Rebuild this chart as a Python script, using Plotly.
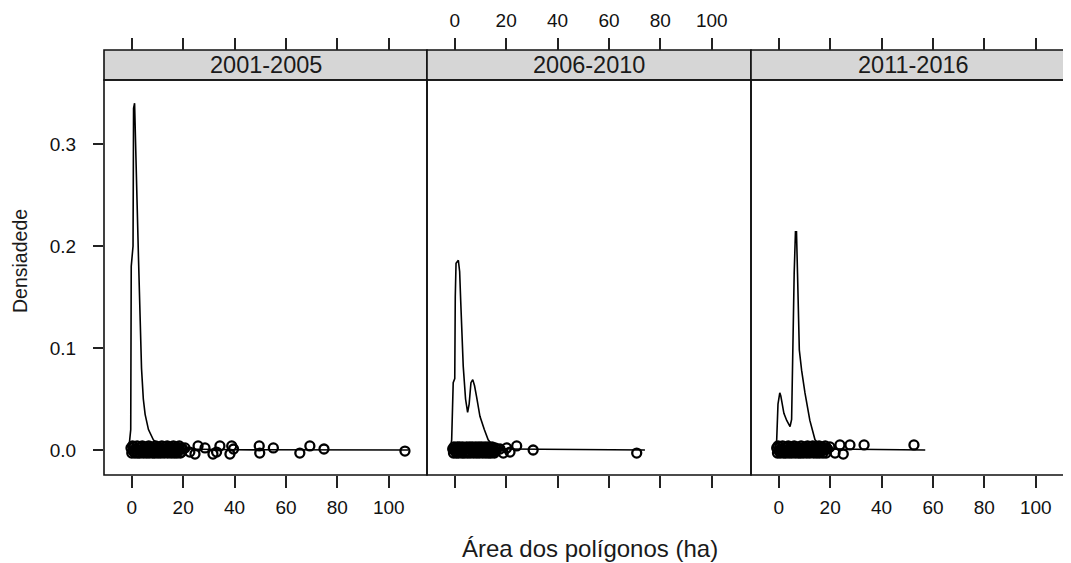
import plotly.graph_objects as go

# ---------------- data ----------------
panel_labels = ["2001-2005", "2006-2010", "2011-2016"]
x_tick_vals = [0, 20, 40, 60, 80, 100]
y_tick_vals = [0.0, 0.1, 0.2, 0.3]
y_tick_text = ["0.0", "0.1", "0.2", "0.3"]

# density curves (x = área ha, y = densidade)
dens_2001_x = [-1.3, -1.0, -0.4, -0.2, 0.5, 0.7, 1.1, 1.6, 2.1, 2.6, 3.2, 3.8, 4.5, 5.2, 6.5, 8.4, 11, 15, 20, 40, 107.5]
dens_2001_y = [0.0, 0.005, 0.02, 0.18, 0.2, 0.335, 0.34, 0.30, 0.24, 0.19, 0.135, 0.08, 0.05, 0.035, 0.02, 0.01, 0.004, 0.002, 0.001, 0.0002, 0.0]

dens_2006_x = [-1.7, -1.2, -0.6, 0.0, 0.2, 0.5, 1.4, 1.9, 2.3, 2.9, 3.3, 4.2, 5.0, 5.6, 6.3, 7.0, 7.7, 8.5, 9.8, 11.5, 13, 15, 18, 74]
dens_2006_y = [0.0, 0.01, 0.066, 0.07, 0.15, 0.183, 0.186, 0.175, 0.147, 0.10, 0.082, 0.05, 0.037, 0.045, 0.066, 0.069, 0.063, 0.052, 0.033, 0.02, 0.01, 0.004, 0.001, 0.0]

dens_2011_x = [-1.3, -0.8, -0.3, 0.4, 0.8, 2.0, 3.1, 4.4, 5.0, 5.4, 6.0, 6.5, 6.9, 7.3, 8.0, 8.9, 10.2, 12.1, 14.1, 16.5, 20, 57]
dens_2011_y = [0.0, 0.01, 0.045, 0.056, 0.053, 0.036, 0.029, 0.023, 0.03, 0.095, 0.173, 0.214, 0.214, 0.173, 0.098, 0.078, 0.056, 0.029, 0.01, 0.004, 0.001, 0.0]

# observed polygon areas (x) with their vertical jitter (y)
pts_2001 = [(-0.3, 0.002), (0.0, -0.003), (0.3, 0.004), (0.5, -0.001), (0.9, 0.003), (1.2, -0.003),
            (1.4, 0.001), (1.8, -0.002), (2.1, 0.004), (2.3, -0.003), (2.7, 0.002), (3.0, 0.0),
            (3.2, -0.003), (3.6, 0.003), (3.9, -0.001), (4.1, 0.004), (4.5, -0.003), (4.8, 0.001),
            (5.0, -0.002), (5.4, 0.003), (5.7, -0.003), (5.9, 0.002), (6.3, -0.001), (6.6, 0.004),
            (6.8, -0.003), (7.2, 0.001), (7.5, -0.002), (7.7, 0.003), (8.1, -0.003), (8.4, 0.002),
            (8.6, 0.0), (9.0, -0.003), (9.3, 0.004), (9.5, -0.002), (9.9, 0.001), (10.2, -0.003),
            (10.4, 0.003), (10.8, -0.001), (11.1, 0.002), (11.3, -0.003), (11.7, 0.004), (12.0, -0.002),
            (12.2, 0.001), (12.6, -0.003), (12.9, 0.003), (13.1, 0.0), (13.5, -0.002), (13.8, 0.004),
            (14.0, -0.003), (14.4, 0.001), (14.7, -0.001), (14.9, 0.003), (15.3, -0.003), (15.6, 0.002),
            (15.8, -0.002), (16.2, 0.004), (16.5, -0.003), (16.7, 0.001), (17.1, -0.001), (17.4, 0.003),
            (17.6, -0.003), (18.0, 0.002), (18.3, 0.0), (18.5, 0.004), (18.9, -0.003), (19.2, 0.002),
            (19.4, -0.002), (19.8, 0.001),
            (20.7, 0.002), (22.6, -0.002), (24.6, -0.004), (25.8, 0.004), (28.5, 0.002),
            (31.6, -0.004), (33.0, -0.002), (34.3, 0.004), (38.2, -0.004), (38.9, 0.004), (39.6, 0.001),
            (49.6, 0.004), (49.8, -0.003), (55.1, 0.002), (65.4, -0.003), (69.3, 0.004), (74.8, 0.001),
            (106.3, -0.001)]

pts_2006 = [(-0.8, 0.001), (-0.5, -0.003), (-0.3, 0.003), (0.1, -0.001), (0.4, 0.002), (0.6, -0.003),
            (1.0, 0.003), (1.3, 0.0), (1.5, -0.003), (1.9, 0.003), (2.2, -0.001), (2.4, 0.002),
            (2.8, -0.003), (3.1, 0.003), (3.3, 0.0), (3.7, -0.003), (4.0, 0.002), (4.2, -0.002),
            (4.6, 0.003), (4.9, -0.003), (5.1, 0.001), (5.5, -0.002), (5.8, 0.003), (6.0, -0.003),
            (6.4, 0.002), (6.7, -0.001), (6.9, 0.003), (7.3, -0.003), (7.6, 0.001), (7.8, -0.002),
            (8.2, 0.003), (8.5, -0.003), (8.7, 0.002), (9.1, -0.001), (9.4, 0.003), (9.6, -0.003),
            (10.0, 0.001), (10.3, -0.002), (10.5, 0.003), (10.9, -0.003), (11.2, 0.002), (11.4, -0.001),
            (11.8, 0.003), (12.1, -0.003), (12.3, 0.001), (12.7, -0.002), (13.0, 0.003), (13.2, -0.003),
            (13.6, 0.002), (13.9, 0.0), (14.1, -0.003), (14.5, 0.003), (14.8, -0.002), (15.0, 0.001),
            (15.4, -0.003), (15.7, 0.002), (15.9, -0.001), (16.4, 0.001),
            (17.6, 0.001), (18.9, -0.003), (20.2, 0.002), (21.5, -0.002),
            (24.1, 0.004), (30.5, 0.0), (70.8, -0.003)]

pts_2011 = [(-0.8, 0.002), (-0.5, -0.003), (-0.3, 0.004), (0.1, -0.001), (0.4, 0.003), (0.6, -0.003),
            (1.0, 0.001), (1.3, -0.002), (1.5, 0.004), (1.9, -0.003), (2.2, 0.002), (2.4, 0.0),
            (2.8, -0.003), (3.1, 0.003), (3.3, -0.001), (3.7, 0.004), (4.0, -0.003), (4.2, 0.001),
            (4.6, -0.002), (4.9, 0.003), (5.1, -0.003), (5.5, 0.002), (5.8, -0.001), (6.0, 0.004),
            (6.4, -0.003), (6.7, 0.001), (6.9, -0.002), (7.3, 0.003), (7.6, -0.003), (7.8, 0.002),
            (8.2, 0.0), (8.5, -0.003), (8.7, 0.004), (9.1, -0.002), (9.4, 0.001), (9.6, -0.003),
            (10.0, 0.003), (10.3, -0.001), (10.5, 0.002), (10.9, -0.003), (11.2, 0.004), (11.4, -0.002),
            (11.8, 0.001), (12.1, -0.003), (12.3, 0.003), (12.7, 0.0), (13.0, -0.002), (13.2, 0.004),
            (13.6, -0.003), (13.9, 0.001), (14.1, -0.001), (14.5, 0.003), (14.8, -0.003), (15.0, 0.002),
            (15.4, -0.002), (15.7, 0.004), (15.9, -0.003), (16.3, 0.001), (16.6, -0.001), (16.8, 0.003),
            (17.2, -0.003), (17.5, 0.002), (17.7, 0.0), (18.1, 0.004), (18.4, -0.003), (18.6, 0.002),
            (19.0, 0.001),
            (19.9, 0.003), (21.9, -0.003), (23.8, 0.005), (25.1, -0.004), (27.7, 0.005),
            (33.2, 0.005), (52.6, 0.005)]

densities = [(dens_2001_x, dens_2001_y), (dens_2006_x, dens_2006_y), (dens_2011_x, dens_2011_y)]
points = [pts_2001, pts_2006, pts_2011]

# ---------------- layout geometry ----------------
OFF = 8                      # page body margin of the html page
W, H = 1071 - OFF, 563 - OFF
FONT = "Liberation Sans, Arial, sans-serif"
panel_px = [(104, 427), (427, 751), (751, 1075)]   # target screen pixels
PANEL_TOP, PANEL_BOT, STRIP_TOP = 80, 475, 50
SCALE = 2.57
XMIN = -10.8
Y_RANGE = [-0.0245, 0.3627]


def fx(p):
    return (p - OFF) / W


def fy(p):
    return 1 - (p - OFF) / H


fig = go.Figure()

for i in range(3):
    xa = "x" if i == 0 else f"x{i + 1}"
    dx, dy = densities[i]
    px_pts = [p[0] for p in points[i]]
    py_pts = [p[1] for p in points[i]]
    fig.add_trace(go.Scatter(x=dx, y=dy, mode="lines", xaxis=xa, yaxis="y",
                             line=dict(color="black", width=1.6),
                             showlegend=False, hoverinfo="skip"))
    fig.add_trace(go.Scatter(x=px_pts, y=py_pts, mode="markers", xaxis=xa, yaxis="y",
                             marker=dict(symbol="circle", size=9, color="rgba(0,0,0,0)",
                                         line=dict(width=2.3, color="black")),
                             showlegend=False, hoverinfo="skip"))
    # empty trace so the top axis is drawn
    fig.add_trace(go.Scatter(x=[], y=[], xaxis=f"x{i + 4}", yaxis="y", showlegend=False))

axis_font = dict(family=FONT, size=19, color="#111111")
layout = dict(
    width=W, height=H,
    margin=dict(l=0, r=0, t=0, b=0),
    paper_bgcolor="white", plot_bgcolor="white",
    showlegend=False,
)

for i in range(3):
    a, b = panel_px[i]
    b_dom = min(b, 1071)
    rng = [XMIN, XMIN + (b_dom - a) / SCALE]
    key = "xaxis" if i == 0 else f"xaxis{i + 1}"
    layout[key] = dict(
        domain=[fx(a), min(fx(b_dom), 1.0)], range=rng, anchor="y",
        tickmode="array", tickvals=x_tick_vals, ticktext=[str(v) for v in x_tick_vals],
        ticks="outside", ticklen=12, tickwidth=1.7, tickcolor="#222222",
        showticklabels=(i != 1), tickfont=axis_font, ticklabelstandoff=3,
        showgrid=False, zeroline=False, showline=False,
    )
    layout[f"xaxis{i + 4}"] = dict(
        overlaying="x" if i == 0 else f"x{i + 1}", side="top",
        anchor="free", position=fy(STRIP_TOP),
        domain=[fx(a), min(fx(b_dom), 1.0)], range=rng,
        tickmode="array", tickvals=x_tick_vals, ticktext=[str(v) for v in x_tick_vals],
        ticks="outside", ticklen=12, tickwidth=1.7, tickcolor="#222222",
        showticklabels=(i == 1), tickfont=axis_font, ticklabelstandoff=3,
        showgrid=False, zeroline=False, showline=False,
    )

layout["yaxis"] = dict(
    domain=[fy(PANEL_BOT), fy(PANEL_TOP)], range=Y_RANGE, anchor="x",
    tickmode="array", tickvals=y_tick_vals, ticktext=y_tick_text,
    ticks="outside", ticklen=10, tickwidth=1.7, tickcolor="#222222",
    tickfont=axis_font, ticklabelstandoff=13,
    showgrid=False, zeroline=False, showline=False,
)

shapes = []
annotations = []
for i in range(3):
    a, b = panel_px[i]
    shapes.append(dict(type="rect", xref="paper", yref="paper",
                       x0=fx(a), x1=fx(b), y0=fy(PANEL_BOT), y1=fy(PANEL_TOP),
                       line=dict(color="#111111", width=1.6), fillcolor="rgba(0,0,0,0)", layer="above"))
    shapes.append(dict(type="rect", xref="paper", yref="paper",
                       x0=fx(a), x1=fx(b), y0=fy(PANEL_TOP), y1=fy(STRIP_TOP),
                       line=dict(color="#111111", width=1.6), fillcolor="#d6d6d6", layer="below"))
    annotations.append(dict(text=panel_labels[i], xref="paper", yref="paper",
                            x=fx((a + min(b, 1075)) / 2), y=fy((PANEL_TOP + STRIP_TOP) / 2),
                            xanchor="center", yanchor="middle", showarrow=False,
                            font=dict(family=FONT, size=23.5, color="#1a1a1a")))

annotations.append(dict(text="Densiadede", xref="paper", yref="paper",
                        x=fx(20), y=fy(261), textangle=-90, xanchor="center", yanchor="middle",
                        showarrow=False, font=dict(family=FONT, size=19.5, color="#1a1a1a")))
annotations.append(dict(text="Área dos polígonos (ha)", xref="paper", yref="paper",
                        x=fx(589.5), y=fy(548), xanchor="center", yanchor="middle",
                        showarrow=False, font=dict(family=FONT, size=24, color="#1a1a1a")))

layout["shapes"] = shapes
layout["annotations"] = annotations
fig.update_layout(**layout)

fig.write_html("out.html")
